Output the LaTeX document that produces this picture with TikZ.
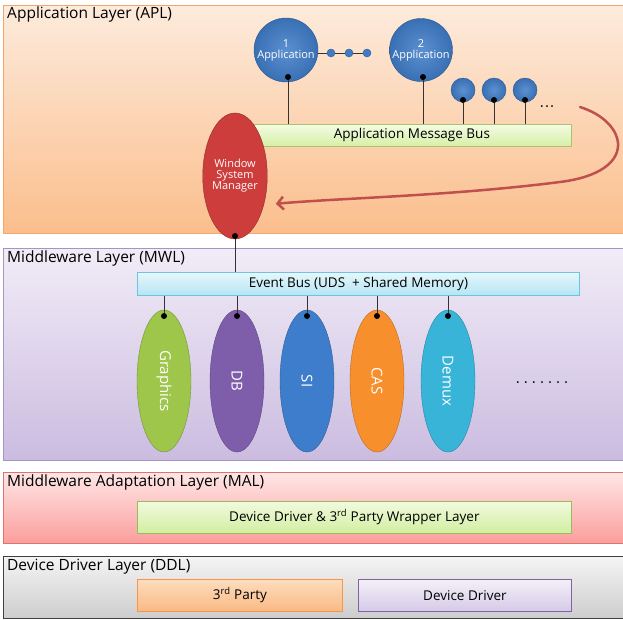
\documentclass[tikz,border=0pt]{standalone}
\usepackage{fontspec}
\setmainfont{Open Sans}
\usetikzlibrary{shapes.geometric,arrows.meta}

\definecolor{aplline}{HTML}{F7A66A}
\definecolor{apltop}{HTML}{FDEBDC}
\definecolor{aplbot}{HTML}{FBBE8C}
\definecolor{mwlline}{HTML}{A595C4}
\definecolor{mwltop}{HTML}{F1ECF7}
\definecolor{mwlbot}{HTML}{CBBCE0}
\definecolor{malline}{HTML}{E07270}
\definecolor{maltop}{HTML}{FFE6E6}
\definecolor{malbot}{HTML}{FA9E9C}
\definecolor{ddlline}{HTML}{404040}
\definecolor{ddltop}{HTML}{F4F4F4}
\definecolor{ddlbot}{HTML}{CDCDCD}
\definecolor{ambline}{HTML}{A9C470}
\definecolor{ambtop}{HTML}{F4FBE4}
\definecolor{ambbot}{HTML}{D6EFA6}
\definecolor{ebusline}{HTML}{6FC3DE}
\definecolor{ebustop}{HTML}{E6F7FC}
\definecolor{ebusbot}{HTML}{B5E5F4}
\definecolor{wrapline}{HTML}{9BBB59}
\definecolor{wraptop}{HTML}{F1FADF}
\definecolor{wrapbot}{HTML}{D2EEA1}
\definecolor{partyline}{HTML}{F79646}
\definecolor{partytop}{HTML}{FDDDBE}
\definecolor{partybot}{HTML}{FAB983}
\definecolor{drvline}{HTML}{8064A2}
\definecolor{drvtop}{HTML}{F3F0F8}
\definecolor{drvbot}{HTML}{D6CAE8}
\definecolor{appblue}{HTML}{3F7CC8}
\definecolor{wsmred}{HTML}{CC3D3B}
\definecolor{gfxgreen}{HTML}{9DC64A}
\definecolor{dbpurple}{HTML}{7E5EAA}
\definecolor{siblue}{HTML}{3E7DCB}
\definecolor{casorange}{HTML}{F78F2C}
\definecolor{demuxcyan}{HTML}{38B4D8}
\definecolor{flowred}{HTML}{C0504D}

\newcommand\fsize[1]{\fontsize{#1}{#1}\selectfont}

\begin{document}
\begin{tikzpicture}[x=1pt,y=-1pt,
  layer/.style={draw=#1line, top color=#1top, bottom color=#1bot, line width=1pt,
    anchor=north west, inner sep=0pt, minimum width=625pt},
  layertext/.style={anchor=north west, inner sep=1pt, font=\fsize{15.5}},
  bus/.style={draw=#1line, top color=#1top, bottom color=#1bot, line width=0.8pt,
    anchor=north west, inner sep=0pt, font=\fsize{13.5}},
  app/.style={circle, draw=appblue!70!black, inner color=appblue!85!white,
    outer color=appblue!90!black, text=white, inner sep=0pt, align=center,
    font=\fsize{11}},
  minidot/.style={circle, draw=appblue!70!black, fill=appblue, minimum size=8pt, inner sep=0pt},
  pindot/.style={circle, fill=black, minimum size=6pt, inner sep=0pt},
  wire/.style={draw=black!80, line width=0.8pt},
  module/.style={ellipse, draw=#1!75!black, fill=#1, minimum width=142pt,
    minimum height=54pt, rotate=-90, text=white, inner sep=0pt, font=\fsize{15}},
  wsm/.style={ellipse, draw=wsmred!70!black, fill=wsmred, minimum width=54pt,
    minimum height=126pt, text=white, inner sep=0pt, align=center, font=\fsize{11}},
  flow/.style={draw=flowred, line width=2.5pt, line cap=round,
    -{Straight Barb[length=6pt,width=13pt]}, shorten >=12pt}
]
\useasboundingbox (0,0) rectangle (623,619);

\node[layer=apl, minimum height=228pt] (apl) at (3,5) {};
\node[layer=mwl, minimum height=212pt] (mwl) at (3,248) {};
\node[layer=mal, minimum height=71pt] (mal) at (3,472) {};
\node[layer=ddl, minimum height=62pt] (ddl) at (3,556) {};
\node[layertext] (apllabel) at (6,6) {Application Layer (APL)};
\node[layertext] (mwllabel) at (6,250) {Middleware Layer (MWL)};
\node[layertext] (mallabel) at (6,474) {Middleware Adaptation Layer (MAL)};
\node[layertext] (ddllabel) at (6,558) {Device Driver Layer (DDL)};

\node[bus=amb, minimum width=319pt, minimum height=22pt] (amb) at (252,124) {Application Message Bus};
\node[bus=ebus, minimum width=442pt, minimum height=23pt] (ebus) at (137,272) {Event Bus (UDS \ + Shared Memory)};
\node[bus=wrap, minimum width=434pt, minimum height=32pt] (wrap) at (137,501) {Device Driver \& 3\textsuperscript{rd} Party Wrapper Layer};
\node[bus=party, minimum width=205pt, minimum height=32pt] (party) at (137,579) {3\textsuperscript{rd} Party};
\node[bus=drv, minimum width=213pt, minimum height=32pt] (drv) at (358,579) {Device Driver};

\node[app, minimum size=64pt] (app1) at (286,50) {1\\Application};
\node[app, minimum size=63pt] (app2) at (421,50) {2\\Application};
\node[minidot] (d1) at (331,53) {};
\node[minidot] (d2) at (349,53) {};
\node[minidot] (d3) at (367,53) {};
\draw[wire] (app1.east |- d1) -- (d1) -- (d2) -- (d3);
\node[app, minimum size=24pt] (s1) at (463,90) {};
\node[app, minimum size=24pt] (s2) at (494,90) {};
\node[app, minimum size=24pt] (s3) at (525,90) {};
\node[font=\fsize{8}] (amore) at (547,108) {\textbullet\hspace{2pt}\textbullet\hspace{2pt}\textbullet};

\node[pindot] (p1) at (288,77) {};
\node[pindot] (p2) at (423,77) {};
\node[pindot] (ps1) at (463,100) {};
\node[pindot] (ps2) at (494,100) {};
\node[pindot] (ps3) at (525,100) {};
\foreach \p in {p1,p2,ps1,ps2,ps3}
  \draw[wire] (\p) -- (\p |- amb.north);

\node[wsm] (wsm) at (235,176) {Window\\System\\Manager};
\node[pindot] (wsmpin) at (235,236) {};
\draw[wire] (wsmpin) -- (wsmpin |- ebus.north);

\coordinate (loopstart) at (580,107);
\draw[flow] (loopstart) .. controls (628,122) and (640,172) .. (560,182)
  .. controls (450,196) and (340,198) .. (wsm.-45);

\foreach \name/\col/\x/\txt in {gfx/gfxgreen/164/Graphics, db/dbpurple/237/DB,
    si/siblue/307/SI, cas/casorange/377/CAS, demux/demuxcyan/448/Demux} {
  \node[module=\col] (\name) at (\x,381) {\txt};
  \node[pindot] (\name-pin) at (\x,316) {};
  \draw[wire] (\name-pin) -- (\name-pin |- ebus.south);
}
\node[font=\fsize{8}] (mmore) at (542,384) {\textbullet\hspace{5pt}\textbullet\hspace{5pt}\textbullet\hspace{5pt}\textbullet\hspace{5pt}\textbullet\hspace{5pt}\textbullet\hspace{5pt}\textbullet};
\end{tikzpicture}
\end{document}
